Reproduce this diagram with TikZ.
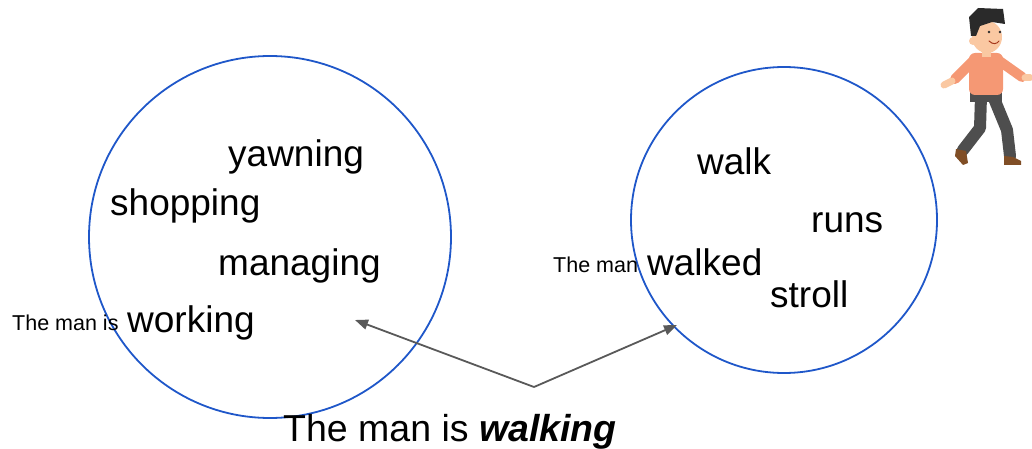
\documentclass[tikz,border=0pt]{standalone}
\usepackage{fontspec}
\setmainfont{Liberation Sans}
\usepackage{xcolor}
\usetikzlibrary{arrows.meta}

\definecolor{ringblue}{RGB}{31,87,201}
\definecolor{arrowgray}{RGB}{89,89,89}
\definecolor{skin}{RGB}{250,200,162}
\definecolor{shirt}{RGB}{245,152,116}
\definecolor{hair}{RGB}{42,42,42}
\definecolor{pants}{RGB}{78,78,78}
\definecolor{shoe}{RGB}{128,78,38}

\begin{document}
\begin{tikzpicture}[
    x=1pt, y=-1pt,
    ring/.style={circle, draw=ringblue, line width=1.8pt, inner sep=0pt},
    word/.style={anchor=base west, inner sep=0pt, font=\fontsize{37}{42}\selectfont},
    leadin/.style={anchor=base west, inner sep=0pt, font=\fontsize{21.5}{24}\selectfont},
    arr/.style={-{Triangle[length=13pt,width=10pt]}, draw=arrowgray, line width=1.8pt}
]
\useasboundingbox (0,0) rectangle (1032,449);

% the two word clouds
\node[ring, minimum size=362pt] (leftset) at (270,237) {};
\node[ring, minimum size=306pt] (rightset) at (784,220) {};

\node[word] (yawning) at (228,167) {yawning};
\node[word] (shopping) at (110,215) {shopping};
\node[word] (managing) at (218,275) {managing};
\node[word] (working) at (127,332) {working};
\node[leadin] (manis) at (12,330) {The man is};

\node[word] (walk) at (697,175) {walk};
\node[word] (runs) at (811,232) {runs};
\node[word] (walked) at (647,275) {walked};
\node[word] (stroll) at (770,307) {stroll};
\node[leadin] (man) at (553,272) {The man};

\node[anchor=base west, inner sep=0pt, font=\fontsize{37.5}{42}\selectfont] (sentence) at (283,441)
    {The man is \textbf{\textit{walking}}};

% arrows out of the sentence
\coordinate (fork) at (534,387);
\coordinate (lefttip) at (355,320);
\coordinate (righttip) at (677,325);
\draw[arr] (fork) -- (lefttip);
\draw[arr] (fork) -- (righttip);

% walking man
\begin{scope}[line cap=round, line join=round]
  \draw[pants, line width=12pt] (981,96) -- (980,128) -- (963,150);
  \draw[pants, line width=12pt] (993,96) -- (1007,130) -- (1010,156);
  \fill[pants] (970,88) rectangle (1002,102);
  \fill[shoe] (956,149) -- (966,151) -- (968,163) -- (963,165) -- (955,156) -- cycle;
  \fill[shoe] (1004,156) -- (1013,157) -- (1021,161) -- (1021,165) -- (1004,165) -- cycle;
  \draw[shirt, line width=10pt] (974,60) -- (955,79);
  \draw[skin, line width=7pt] (952,81) -- (944,85);
  \draw[shirt, line width=10pt] (998,60) -- (1022,77);
  \draw[skin, line width=7pt] (1025,78) -- (1030,78);
  \fill[shirt, rounded corners=6pt] (969,53) rectangle (1003,95);
  \fill[skin] (982,50) rectangle (991,57);
  \fill[skin] (987,37) ellipse (15pt and 16pt);
  \fill[skin] (973,41) circle (4pt);
  \fill[hair] (971,36) -- (969,17) -- (978,8) -- (1003,9) -- (1005,24)
      -- (992,22) -- (980,26) -- (976,36) -- cycle;
  \fill[hair] (989,32) circle (1.4pt);
  \fill[hair] (1000,32) circle (1.4pt);
  \draw[shoe!70!red, line width=1pt] (989,41) .. controls (993,45) and (997,44) .. (999,41);
\end{scope}
\end{tikzpicture}
\end{document}
